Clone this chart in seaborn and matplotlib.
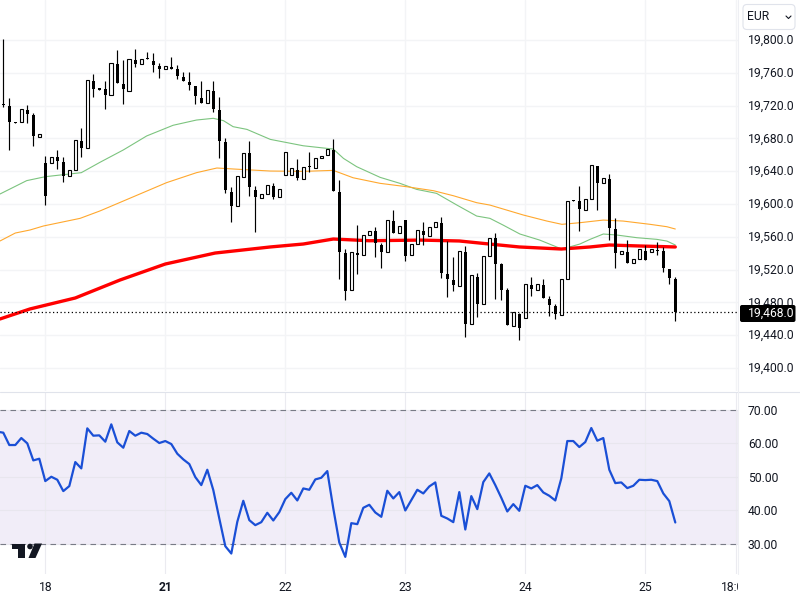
import numpy as np
import pandas as pd
import matplotlib
matplotlib.use('Agg')
import matplotlib.pyplot as plt
import seaborn as sns
from matplotlib.patches import FancyBboxPatch, Polygon, Circle
from matplotlib.lines import Line2D
from matplotlib.transforms import Bbox, Affine2D, ScaledTranslation

# candles, bar index runs from -7 (bar 0 is the "18" day tick)
opens = [19722, 19720, 19700, 19700, 19714.6, 19708.5, 19682.1,
         19650, 19649.6, 19657.3, 19651.2, 19633.7, 19641, 19676.8, 19667.9, 19750, 19741,
         19740.2, 19732.5, 19770.7, 19746.4, 19738.2, 19775.6, 19770.3, 19777.6, 19774.4, 19768.3,
         19764.2, 19767.1, 19764.6, 19754.9, 19748.8, 19743.9, 19729.3, 19722.8, 19737.8, 19714.6,
         19675.2, 19614.2, 19597.2, 19632.5, 19661.8, 19617.1, 19607.7, 19611.8, 19621.9, 19608.1,
         19634.9, 19634.9, 19641.4, 19630, 19646.3, 19643.5, 19655.6, 19659.3, 19665.8, 19614.6,
         19540.2, 19494.7, 19540.2, 19537.4, 19562.6, 19567, 19550, 19541, 19579.2, 19564.2,
         19580.4, 19537.4, 19550.8, 19567, 19560.5, 19571.5, 19576.8, 19514.6, 19507.3, 19499.6,
         19541.4, 19453.2, 19510.9, 19477.6, 19536.1, 19558, 19526.8, 19495.1, 19451.6, 19465.8,
         19460.5, 19501.2, 19495.5, 19501.2, 19484.1, 19476, 19465, 19508.1, 19604.4, 19603.6,
         19593, 19605.6, 19646.3, 19625, 19630.4, 19569.5, 19539.4, 19541, 19528.4, 19532.5,
         19542.6, 19541.8, 19543.9, 19542.6, 19520.7, 19508.5]
highs = [19801, 19729, 19700, 19715.5, 19720.7, 19710.6, 19685,
         19658.5, 19656.9, 19665.4, 19657.3, 19641, 19677.6, 19692.7, 19750.8, 19758.5, 19741,
         19750, 19771.6, 19787.8, 19775.6, 19776.4, 19789, 19776.4, 19785, 19784.2, 19771.6,
         19767.9, 19779.3, 19769.5, 19761.4, 19761, 19743.9, 19750, 19738.6, 19750, 19730.1,
         19680.1, 19620.3, 19633.7, 19661.8, 19676.4, 19622, 19611.8, 19622.8, 19625.2, 19617.8,
         19663, 19643.5, 19654.4, 19645.5, 19663, 19656.5, 19658.1, 19666.6, 19678.8, 19629.2,
         19544.7, 19541, 19574.3, 19562.6, 19567.4, 19571.5, 19552, 19580, 19592.6, 19573.5,
         19580.4, 19550.8, 19567.8, 19577.6, 19571.5, 19577.6, 19583.7, 19555.2, 19535.7, 19542.2,
         19548.7, 19513, 19515.4, 19536.1, 19558.1, 19564.2, 19527.6, 19497.1, 19467.8, 19467.4,
         19502, 19511.3, 19502, 19508.5, 19487.8, 19478, 19508.1, 19603.2, 19604.4, 19621.9,
         19605.6, 19647.1, 19646.3, 19631.2, 19636.5, 19582.5, 19542.6, 19556, 19532.5, 19544.7,
         19549.9, 19545, 19553.2, 19547.1, 19520.7, 19510.5]
lows = [19718, 19666, 19699, 19700, 19699.2, 19670.7, 19682.1,
        19599.2, 19649.6, 19642.7, 19626.8, 19633.7, 19641, 19657.3, 19667.9, 19730.5, 19739.4,
        19715.9, 19732.5, 19748, 19722, 19738.2, 19767.5, 19770.3, 19776.8, 19761.4, 19753.7,
        19764.2, 19765, 19752, 19750.4, 19739, 19722, 19723.6, 19722.8, 19712.2, 19656.5,
        19613.8, 19578.5, 19597.2, 19632.5, 19610.2, 19565.9, 19607.7, 19611.8, 19605.6, 19608.1,
        19634.9, 19634.9, 19629.2, 19630, 19639.4, 19643.5, 19655.6, 19659.3, 19616.2, 19508.9,
        19482.9, 19494.7, 19514.6, 19537.4, 19562.6, 19535.7, 19522.3, 19541, 19565, 19564.2,
        19530.9, 19537.4, 19550.8, 19550, 19560.5, 19571.5, 19509.7, 19487, 19493.9, 19499.6,
        19438.2, 19453.2, 19462.6, 19477.6, 19536.1, 19483.7, 19482.9, 19452.8, 19451.6, 19434.1,
        19460.5, 19488.2, 19495.5, 19485.7, 19463.8, 19459.7, 19465, 19508.1, 19604, 19567,
        19593, 19605.6, 19592.6, 19625, 19556, 19522.3, 19539.4, 19528.4, 19528.4, 19532.5,
        19531.2, 19541.8, 19537.8, 19517.4, 19502.4, 19457.7]
closes = [19721, 19700, 19699.2, 19715.5, 19709.8, 19683, 19685,
          19610.2, 19656.9, 19652.9, 19634.1, 19641, 19677.6, 19668.7, 19750.8, 19740.2, 19739.4,
          19733, 19771.6, 19748, 19740.2, 19776.4, 19770.7, 19776.4, 19776.8, 19769.9, 19764.6,
          19767.9, 19765, 19756.5, 19750.4, 19745.5, 19732.1, 19723.6, 19738.6, 19715.5, 19677.2,
          19617.1, 19598, 19633.7, 19661.8, 19621.1, 19609, 19611.8, 19622.8, 19608.9, 19617.8,
          19663, 19643.5, 19632, 19645.5, 19644.7, 19656.5, 19658.1, 19666.6, 19616.2, 19541.8,
          19494.3, 19541, 19538.2, 19562.6, 19567.4, 19552.4, 19541.4, 19580, 19565, 19573.5,
          19537, 19550.8, 19567.8, 19562.2, 19571.5, 19577.6, 19516.2, 19508.9, 19501.6, 19542.2,
          19454, 19513, 19478.4, 19536.1, 19558.1, 19526.8, 19495.1, 19452.8, 19467.8, 19449.1,
          19502, 19496.3, 19502, 19485.7, 19476.8, 19465.8, 19508.1, 19603.2, 19604, 19593.8,
          19605.6, 19647.1, 19626, 19631.2, 19570.7, 19540.6, 19542.6, 19528.4, 19532.5, 19544.7,
          19531.2, 19545, 19542.6, 19522.3, 19510.1, 19468]

# moving averages read at a few bars
green_x = [-7.55, -3.1, 0, 6, 9.1, 13, 16.9, 21.3, 25.2, 28, 29.7, 31.3, 33.6, 37.5, 43, 48, 49.7, 51.9,
           55.8, 59.1, 61.9, 65.2, 68.6, 71.9, 74.1, 76.3, 79.1, 82.4, 86.1, 89.1, 90.8, 93, 95.2, 98.6,
           101.9, 103.6, 105]
green_y = [19612.2, 19628.5, 19633.3, 19638.2, 19650.8, 19665.9, 19683, 19696, 19702.4, 19704.5, 19701.6,
           19694.3, 19691, 19678.8, 19671, 19667, 19655.6, 19645.5, 19632.5, 19625.2, 19617.8, 19613,
           19598.7, 19585.3, 19582.5, 19574.3, 19563.4, 19556, 19545, 19551.2, 19556.9, 19563.4, 19562.2,
           19558.9, 19556.9, 19554.8, 19550]
orange_x = [-7.55, -5, -2.55, -0.3, 5.8, 9.1, 14.7, 20.2, 25.2, 28.6, 31.3, 37.5, 43, 48, 51.3, 55.8, 60.2,
            64.7, 68, 71.9, 74.1, 76.9, 79.7, 83.6, 86.1, 89.1, 93, 96.3, 100.8, 103.6, 105]
orange_y = [19554.9, 19564.6, 19568.3, 19573.2, 19582.5, 19591.5, 19608.9, 19626, 19638.2, 19643.9, 19642.7,
            19640.2, 19639.8, 19641, 19632, 19625.2, 19621.1, 19616.2, 19610.1, 19601.6, 19598.7, 19592.6,
            19586.5, 19579.2, 19575.2, 19577.2, 19580.4, 19579.2, 19575.2, 19572.3, 19569.5]
red_x = [-7.55, -2.55, 5, 12.45, 20, 28.3, 37.5, 43, 48, 54, 62.5, 69, 74, 79, 86, 90.8, 94, 99, 105]
red_y = [19459.8, 19472, 19485.4, 19507.3, 19526.8, 19540.2, 19547.6, 19551.2, 19557.3, 19555.2, 19556,
         19554.9, 19551.2, 19547.6, 19545.1, 19547.6, 19550, 19548.8, 19547.6]

# RSI, one value per bar from -8
rsi = [63.5, 63.2, 59.5, 59.5, 61.6, 60, 54.9, 55.4, 48.7, 50, 49.1, 45.7, 47.2, 54.4, 52.5, 64.5, 62.3, 62.4,
       60.5, 65.7, 60.3, 58.7, 63.7, 62.3, 63.2, 62.8, 61.4, 60.1, 60.7, 59.8, 56.9, 55.2, 53.8, 49.9, 47.5,
       52.1, 46, 37.5, 29.2, 27, 36.5, 42.8, 37, 35.5, 36.4, 39.2, 36.9, 39.4, 43.3, 45.2, 42.9, 46.5, 46.1,
       49.2, 49.7, 51.7, 40.5, 30.3, 26, 36.1, 35.8, 40.7, 41.6, 39.3, 38, 45.8, 43.5, 45.4, 39.9, 43, 46.1,
       45, 47.1, 48.3, 38.3, 37.5, 36.4, 45.4, 34.2, 44.2, 40.3, 48.4, 51, 47.5, 43.7, 39.6, 41.8, 39.8, 47.3,
       46.5, 47.5, 45.3, 44.3, 42.9, 49.5, 60.7, 60.7, 58.9, 60.4, 64.6, 60.8, 61.6, 52.1, 48.1, 48.3, 46.6,
       47.3, 49.1, 49, 49.1, 48.7, 45, 42.7, 36.3]

price_ticks = [19400, 19440, 19480, 19520, 19560, 19600, 19640, 19680, 19720, 19760, 19800]
rsi_ticks = [30, 40, 50, 60, 70]
day_ticks = [0, 20, 40, 60, 80, 100, 115.1]
day_labels = ['18', '21', '22', '23', '24', '25', '18:00']
last_price = 19468

sns.set_style("white")
plt.rcParams['font.family'] = ['Roboto', 'DejaVu Sans']

TEXT = '#131722'
GRID = '#f3f4f6'
W, H = 800, 600
PANE_R = 737.5

fig = plt.figure(figsize=(8, 6), dpi=100)
ax = fig.add_axes([0, 1 - 391 / H, PANE_R / W, 391 / H])
ax2 = fig.add_axes([0, 1 - 574 / H, PANE_R / W, 182 / H])

# pixel coords with y going down, for the chrome around the chart
px = Affine2D().scale(1, -1).translate(0, H)

xlim = (-7.55, -7.55 + PANE_R / 6)
n = len(opens)
idx = np.arange(-7, -7 + n)
df = pd.DataFrame({'i': idx, 'o': opens, 'h': highs, 'l': lows, 'c': closes})
up = df[df.c > df.o]
down = df[df.c <= df.o]

ax.vlines(df.i, df.l, df.h, color='black', lw=0.85, zorder=4)
ax.bar(up.i, (up.c - up.o), bottom=up.o, width=0.6, facecolor='white', edgecolor='black', lw=0.8, zorder=5)
ax.bar(down.i, (down.o - down.c).clip(lower=0.8), bottom=down.c, width=0.5, color='black', lw=0, zorder=5)

sns.lineplot(x=green_x, y=green_y, ax=ax, color='#7cc47f', lw=0.8, estimator=None, zorder=2)
sns.lineplot(x=orange_x, y=orange_y, ax=ax, color='#ffa82e', lw=0.8, estimator=None, zorder=2)
sns.lineplot(x=red_x, y=red_y, ax=ax, color='#ff0000', lw=2.4, estimator=None, zorder=3)
ax.axhline(last_price, color='black', lw=0.9, ls=(0, (1, 2)), zorder=6)

ax.set_xlim(*xlim)
ax.set_ylim(19800 - 351 / 0.82, 19800 + 40 / 0.82)
ax.set_yticks(price_ticks)
ax.set_yticklabels([f'{v:,.1f}' for v in price_ticks])
ax.yaxis.tick_right()
ax.tick_params(axis='y', length=0, pad=7.5, labelsize=8.7, labelcolor=TEXT)
ax.set_xticks(day_ticks)
ax.tick_params(axis='x', length=0, labelbottom=False)
ax.grid(True, color=GRID, lw=1)
ax.set_axisbelow(True)

# labels sit a pixel above the gridlines in the reference
up_1px = ScaledTranslation(0, 1 / 100, fig.dpi_scale_trans)
for label in ax.get_yticklabels():
    label.set_transform(label.get_transform() + up_1px)

# RSI pane
rsi_x = np.arange(-8, -8 + len(rsi))
ax2.axhspan(30, 70, facecolor='#7e57c2', alpha=0.1, lw=0, zorder=0)
ax2.axhline(70, color='#787b86', lw=0.8, ls=(0, (5, 4)), zorder=1)
ax2.axhline(30, color='#787b86', lw=0.8, ls=(0, (5, 4)), zorder=1)
sns.lineplot(x=rsi_x, y=rsi, ax=ax2, color='#1a4fd6', lw=1.6, estimator=None, zorder=3)
ax2.set_xlim(*xlim)
ax2.set_ylim(30 - 30.5 / 3.34, 70 + 18 / 3.34)
ax2.set_yticks(rsi_ticks)
ax2.set_yticklabels([f'{v:.2f}' for v in rsi_ticks])
ax2.yaxis.tick_right()
ax2.tick_params(axis='y', length=0, pad=7.5, labelsize=8.7, labelcolor=TEXT)
ax2.set_xticks(day_ticks)
ax2.set_xticklabels(day_labels)
ax2.tick_params(axis='x', length=0, pad=5, labelsize=8.7, labelcolor=TEXT)
ax2.grid(True, color='#e8e6ee', lw=0.8)
ax2.xaxis.grid(True, color='#ebebf0', lw=0.8)
ax2.set_axisbelow(True)

for label in ax2.get_xticklabels():
    label.set_clip_on(True)
    label.set_clip_box(Bbox([[0, 0], [PANE_R, H]]))
ax2.get_xticklabels()[1].set_fontweight('bold')

for a in (ax, ax2):
    for s in a.spines.values():
        s.set_visible(False)

# pane separator and right border
fig.add_artist(Line2D([0, 800], [391.5, 391.5], color='#e0e3eb', lw=0.8, transform=px))
fig.add_artist(Line2D([PANE_R, PANE_R], [0, 574], color='#eeeff3', lw=0.8, transform=px))

# last price tag
fig.add_artist(FancyBboxPatch((740, 305), 55.5, 17, boxstyle='round,pad=0,rounding_size=2',
                              facecolor='black', edgecolor='none', transform=px, zorder=8))
fig.text(747.5 / W, 1 - 313.5 / H, f'{last_price:,.1f}', color='white', fontsize=8.7, va='center', ha='left', zorder=9)

# currency button
fig.add_artist(FancyBboxPatch((743, 4.5), 52, 25, boxstyle='round,pad=0,rounding_size=4',
                              facecolor='white', edgecolor='#e0e3eb', lw=0.8, transform=px, zorder=8))
fig.text(747 / W, 1 - 16.5 / H, 'EUR', color=TEXT, fontsize=8.7, va='center', ha='left', zorder=9)
fig.add_artist(Line2D([786, 788.5, 791], [16, 18.5, 16], color=TEXT, lw=0.8, transform=px, zorder=9))

# TradingView mark
logo = '#131722'
fig.add_artist(Polygon([(12, 543.5), (25, 543.5), (25, 558), (18, 558), (18, 549), (12, 549)],
                       closed=True, facecolor=logo, edgecolor='none', transform=px, zorder=7))
fig.add_artist(Circle((30, 546.5), 2.8, facecolor=logo, edgecolor='none', transform=px, zorder=7))
fig.add_artist(Polygon([(34.5, 543.5), (42, 543.5), (35.5, 558), (28.5, 558)],
                       closed=True, facecolor=logo, edgecolor='none', transform=px, zorder=7))

plt.savefig('out.png', dpi=100)
